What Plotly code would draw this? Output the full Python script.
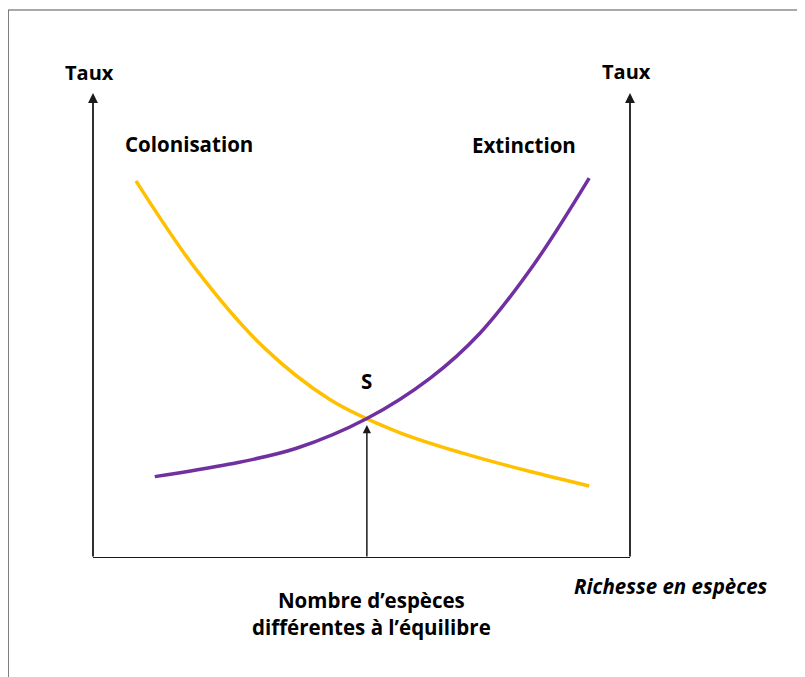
import plotly.graph_objects as go

# Species richness (x, 0-100) and rate (y, 0-100)
colonisation_x = [8.0, 19.3, 31.7, 44.1, 56.6, 69.0, 81.4, 92.4]
colonisation_y = [81.1, 61.9, 45.4, 34.1, 27.2, 22.5, 18.6, 15.5]

extinction_x = [11.5, 25.5, 37.9, 51.0, 62.8, 72.1, 82.2, 92.4]
extinction_y = [17.5, 20.2, 23.6, 30.0, 38.7, 48.4, 63.3, 81.7]

equilibrium_x = 51.0
equilibrium_tip = 28.6

FONT = "Open Sans"
BLACK = "#000000"

fig = go.Figure()
fig.add_trace(go.Scatter(x=colonisation_x, y=colonisation_y, mode="lines",
                         line=dict(color="#FFC000", width=3.5, shape="spline", smoothing=1.0),
                         hoverinfo="skip", showlegend=False))
fig.add_trace(go.Scatter(x=extinction_x, y=extinction_y, mode="lines",
                         line=dict(color="#7030A0", width=3.5, shape="spline", smoothing=1.0),
                         hoverinfo="skip", showlegend=False))

# bottom axis line
fig.add_shape(type="line", xref="x", yref="y", x0=0, y0=0, x1=100, y1=0,
              line=dict(color="#1a1a1a", width=2))
# outer frame (extends beyond the picture on right & bottom)
fig.add_shape(type="line", xref="paper", yref="paper", x0=-0.158, y0=1.1785, x1=1.4, y1=1.1785,
              line=dict(color="#555555", width=1.2))
fig.add_shape(type="line", xref="paper", yref="paper", x0=-0.158, y0=1.1785, x1=-0.158, y1=-0.4,
              line=dict(color="#555555", width=1.2))

annotations = []
# vertical axes with arrows
for xv in (0, 100):
    annotations.append(dict(x=xv, y=100, ax=xv, ay=0, xref="x", yref="y", axref="x", ayref="y",
                            showarrow=True, arrowhead=2, arrowsize=1.1, arrowwidth=1.8,
                            arrowcolor="#1a1a1a", text=""))
# equilibrium arrow
annotations.append(dict(x=equilibrium_x, y=equilibrium_tip, ax=equilibrium_x, ay=0,
                        xref="x", yref="y", axref="x", ayref="y",
                        showarrow=True, arrowhead=2, arrowsize=1.1, arrowwidth=1.5,
                        arrowcolor="#1a1a1a", text=""))

def txt(x, y, s, ref="paper", size=20.5, italic=False):
    return dict(x=x, y=y, xref=ref if ref == "paper" else "x", yref=ref if ref == "paper" else "y",
                text=s, showarrow=False, xanchor="center", yanchor="middle",
                font=dict(family=FONT, size=size, color=BLACK,
                          style="italic" if italic else "normal", weight="bold"))

annotations += [
    txt(-0.0056, 1.045, "Taux", size=20),
    txt(0.9944, 1.047, "Taux", size=20),
    txt(17.9, 89.0, "Colonisation", ref="data"),
    txt(80.3, 88.8, "Extinction", ref="data"),
    txt(51.0, 38.1, "S", ref="data"),
    txt(1.076, -0.060, "Richesse en espèces", italic=True),
    dict(x=0.5177, y=-0.120, xref="paper", yref="paper",
         text="Nombre d’espèces<br>différentes à l’équilibre", showarrow=False,
         xanchor="center", yanchor="middle", align="center",
         font=dict(family=FONT, size=20.5, color=BLACK, weight="bold")),
]

fig.update_layout(
    width=805, height=677,
    margin=dict(l=85, r=183, t=85, b=127),
    paper_bgcolor="white", plot_bgcolor="white",
    xaxis=dict(range=[0, 100], visible=False, fixedrange=True),
    yaxis=dict(range=[0, 100], visible=False, fixedrange=True),
    annotations=annotations,
    showlegend=False,
)

fig.write_html("out.html")
